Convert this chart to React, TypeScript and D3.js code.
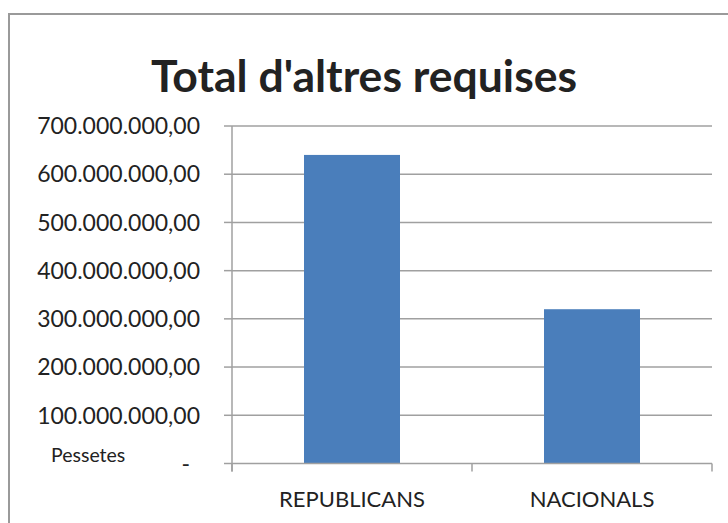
import React from "react";
import * as d3 from "d3";

const categories: string[] = ["REPUBLICANS", "NACIONALS"];
const values: number[] = [640000000, 320000000];
const yTicks: number[] = [0, 100000000, 200000000, 300000000, 400000000, 500000000, 600000000, 700000000];
const title = "Total d'altres requises";
const unitLabel = "Pessetes";

const W = 728;
const H = 523;
const FONT = "Lato, 'Open Sans', sans-serif";

const fmt = (v: number) => {
  if (v === 0) return "-";
  const s = d3.format(",.2f")(v); // 700,000,000.00
  return s.replace(/,/g, "#").replace(".", ",").replace(/#/g, ".");
};

export default function App() {
  const left = 232;
  const right = 712;
  const top = 126;
  const bottom = 463.5;
  const y = d3.scaleLinear().domain([0, 700000000]).range([bottom, top]);
  const x = d3.scaleBand<string>().domain(categories).range([left, right]).paddingInner(0.6).paddingOuter(0.3);
  const step = x.step();
  const catEdges = [left, ...categories.map((_, i) => left + step * (i + 1))];
  const grid = "#a0a0a0";
  const text = "#222";

  return (
    <svg width={W} height={H} style={{ position: "absolute", left: 0, top: 0, display: "block", background: "#fff" }}>
      <rect x={9} y={14} width={760} height={560} fill="#fff" stroke="#9a9a9a" strokeWidth={2} />
      <text x={364} y={92} textAnchor="middle" fontFamily={FONT} fontWeight={700} fontSize={44.5} fill={text}>
        {title}
      </text>
      {yTicks.map((t) => (
        <g key={t}>
          {t > 0 && <line x1={left} x2={right} y1={y(t)} y2={y(t)} stroke={grid} strokeWidth={1.5} />}
          <line x1={left - 8} x2={left} y1={y(t)} y2={y(t)} stroke={grid} strokeWidth={1.5} />
          <text
            x={t === 0 ? 190 : 200}
            y={y(t)}
            dy="0.36em"
            textAnchor="end"
            fontFamily={FONT}
            fontSize={23}
            fill={text}
          >
            {fmt(t)}
          </text>
        </g>
      ))}
      {categories.map((c, i) => (
        <rect key={c} x={x(c)} y={y(values[i])} width={x.bandwidth()} height={bottom - y(values[i])} fill="#4a7ebb" />
      ))}
      <line x1={left} x2={right} y1={bottom} y2={bottom} stroke={grid} strokeWidth={1.5} />
      <line x1={left} x2={left} y1={top} y2={bottom + 8} stroke={grid} strokeWidth={1.5} />
      {catEdges.map((e, i) => (
        <line key={i} x1={e} x2={e} y1={bottom} y2={bottom + 8} stroke={grid} strokeWidth={1.5} />
      ))}
      {categories.map((c) => (
        <text key={c} x={(x(c) as number) + x.bandwidth() / 2} y={507} textAnchor="middle" fontFamily={FONT} fontSize={22} fill={text}>
          {c}
        </text>
      ))}
      <text x={51} y={462} fontFamily={FONT} fontSize={19.5} fill={text}>
        {unitLabel}
      </text>
    </svg>
  );
}
